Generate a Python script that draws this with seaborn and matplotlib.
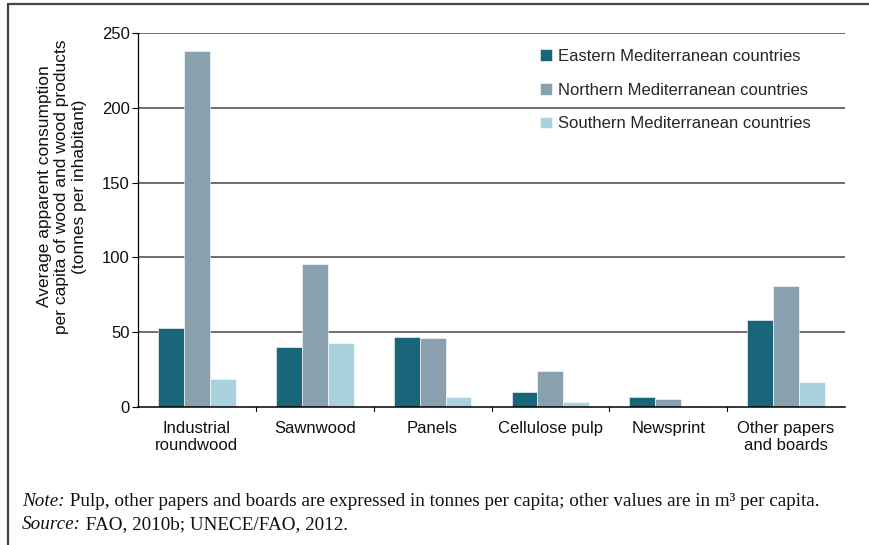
import matplotlib
matplotlib.use("Agg")
import matplotlib.pyplot as plt
import seaborn as sns
import pandas as pd
from matplotlib.lines import Line2D

# data
products = ['Industrial\nroundwood', 'Sawnwood', 'Panels', 'Cellulose pulp',
            'Newsprint', 'Other papers\nand boards']
regions = ['Eastern Mediterranean countries', 'Northern Mediterranean countries',
           'Southern Mediterranean countries']
eastern = [52.5, 40, 46.5, 10, 6.5, 58]
northern = [238, 95.5, 46, 24, 5.5, 81]
southern = [18.5, 42.5, 7, 3.5, 0.7, 16.5]
colors = ['#19657a', '#89a0ae', '#a9d1de']
yticks = [0, 50, 100, 150, 200, 250]

df = pd.DataFrame({
    'product': products * 3,
    'region': [regions[0]] * 6 + [regions[1]] * 6 + [regions[2]] * 6,
    'value': eastern + northern + southern,
})

sns.set_style('white')
plt.rcParams['font.family'] = ['Liberation Sans', 'DejaVu Sans']

fig = plt.figure(figsize=(8.69, 5.45), dpi=100)
ax = fig.add_axes([0.1588, 0.2532, 0.9724 - 0.1588, 0.9394 - 0.2532])

sns.barplot(data=df, x='product', y='value', hue='region', order=products,
            hue_order=regions, palette=colors, saturation=1, width=0.66,
            dodge=True, edgecolor='white', linewidth=0.4, errorbar=None,
            ax=ax, zorder=3)

ax.set_ylim(0, 250)
ax.set_xlim(-0.5, 5.5)
ax.set_yticks(yticks)
ax.set_yticklabels([str(v) for v in yticks], fontsize=12, color='#111111')
ax.yaxis.grid(True, color='#555555', linewidth=1.2, zorder=0)
ax.set_axisbelow(True)
ax.tick_params(axis='y', left=True, length=4, width=0.8, color='black', pad=2)
ax.tick_params(axis='x', which='major', bottom=False, length=0, pad=10,
               labelsize=12, labelcolor='#111111')
# the bottom spine stands in for the gridline at 0
ax.get_ygridlines()[0].set_visible(False)

# small tick marks between the product groups
for xb in [0.5, 1.5, 2.5, 3.5, 4.5]:
    ax.plot([xb, xb], [0, -0.012], transform=ax.get_xaxis_transform(),
            color='black', linewidth=0.8, clip_on=False)

ax.set_xlabel('')
ax.set_ylabel('Average apparent consumption\nper capita of wood and wood products\n(tonnes per inhabitant)',
              fontsize=12.5, linespacing=1.22, color='#111111')
ax.yaxis.set_label_coords(-0.072, 0.59)

for s in ['top', 'right']:
    ax.spines[s].set_visible(False)
for s in ['left', 'bottom']:
    ax.spines[s].set_color('black')
    ax.spines[s].set_zorder(6)
ax.spines['left'].set_linewidth(0.9)
ax.spines['bottom'].set_linewidth(1.1)

ax.legend(loc='upper left', bbox_to_anchor=(0.569, 0.958), frameon=False,
          fontsize=12, handlelength=0.7, handleheight=0.7,
          handletextpad=0.35, labelspacing=1.13, borderpad=0,
          borderaxespad=0)

# outer frame (left and top)
fig.add_artist(Line2D([0.0092, 0.0092], [0.0, 0.9926], color='#444444',
                      linewidth=1.6, transform=fig.transFigure))
fig.add_artist(Line2D([0.0092, 1.0], [0.9926, 0.9926], color='#444444',
                      linewidth=1.6, transform=fig.transFigure))

# footer notes
serif = ['Liberation Serif', 'DejaVu Serif']
fig.canvas.draw()
rend = fig.canvas.get_renderer()
for y, head, rest in [(0.071, 'Note:', ' Pulp, other papers and boards are expressed in tonnes per capita; other values are in m\u00b3 per capita.'),
                      (0.030, 'Source:', ' FAO, 2010b; UNECE/FAO, 2012.')]:
    t = fig.text(0.0253, y, head, fontsize=13.8, style='italic', family=serif,
                 va='baseline', ha='left', color='#111111')
    bb = t.get_window_extent(renderer=rend)
    fig.text(bb.x1 / fig.bbox.width, y, rest, fontsize=13.8, family=serif,
             va='baseline', ha='left', color='#111111')

fig.savefig('out.png', dpi=100)
